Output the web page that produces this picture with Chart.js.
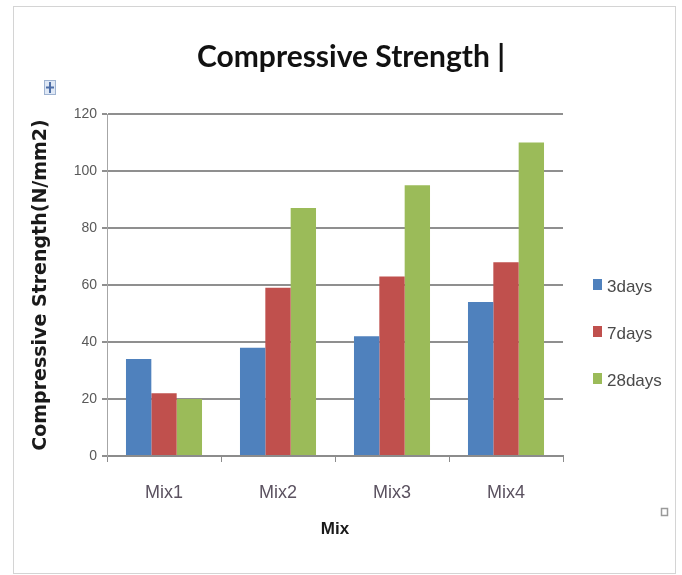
<!DOCTYPE html>
<html>
<head>
<meta charset="utf-8">
<script src="https://cdn.jsdelivr.net/npm/chart.js@4/dist/chart.umd.min.js"></script>
<style>
  html, body { margin: 0; padding: 0; background: #ffffff; }
  #wrap { width: 682px; height: 575px; }
</style>
</head>
<body>
<div id="wrap"><canvas id="c" width="682" height="575"></canvas></div>
<script>
// Categories, series and axis ticks
const mixes = ['Mix1', 'Mix2', 'Mix3', 'Mix4'];
const seriesNames = ['3days', '7days', '28days'];
const days3 = [34, 38, 42, 54];
const days7 = [22, 59, 63, 68];
const days28 = [20, 87, 95, 110];
const yTicks = [0, 20, 40, 60, 80, 100, 120];

const colors = ['#4F81BD', '#C0504D', '#9BBB59'];
const seriesValues = [days3, days7, days28];

// Light frame around the chart object plus its small handles
const framePlugin = {
  id: 'frame',
  beforeDraw(chart) {
    const ctx = chart.ctx;
    ctx.save();
    ctx.fillStyle = '#ffffff';
    ctx.fillRect(0, 0, chart.width, chart.height);
    ctx.strokeStyle = '#d4d4d4';
    ctx.lineWidth = 1;
    ctx.strokeRect(13.5, 6.5, 662, 567);
    // move handle (top left)
    ctx.fillStyle = '#dfe8f5';
    ctx.fillRect(44, 80, 12, 15);
    ctx.strokeStyle = '#9fb3d1';
    ctx.strokeRect(44.5, 80.5, 11, 14);
    ctx.strokeStyle = '#4f6fa8';
    ctx.lineWidth = 2;
    ctx.beginPath();
    ctx.moveTo(50, 82); ctx.lineTo(50, 93);
    ctx.moveTo(46, 87.5); ctx.lineTo(54, 87.5);
    ctx.stroke();
    // resize handle (bottom right)
    ctx.lineWidth = 1.5;
    ctx.strokeStyle = '#9a9a9a';
    ctx.strokeRect(661.5, 508.5, 6, 7);
    ctx.restore();
  }
};

// Legend drawn to the right of the plot, one entry per dataset
const sideLegend = {
  id: 'sideLegend',
  afterDraw(chart) {
    const ctx = chart.ctx;
    const area = chart.chartArea;
    const x = area.right + 30;
    const y0 = area.top + 173;
    const gap = 47;
    ctx.save();
    ctx.font = '17px "Liberation Sans", Arial, sans-serif';
    ctx.textBaseline = 'middle';
    ctx.textAlign = 'left';
    chart.data.datasets.forEach((ds, i) => {
      const cy = y0 + i * gap;
      ctx.fillStyle = ds.backgroundColor;
      ctx.fillRect(x, cy - 8, 9, 11);
      ctx.fillStyle = '#4a4a4a';
      ctx.fillText(ds.label, x + 14, cy);
    });
    ctx.restore();
  }
};

const chart = new Chart(document.getElementById('c'), {
  type: 'bar',
  data: {
    labels: mixes,
    datasets: seriesNames.map((name, i) => ({
      label: name,
      data: seriesValues[i],
      backgroundColor: colors[i],
      borderWidth: 0,
      categoryPercentage: 0.667,
      barPercentage: 1.0,
      yAxisID: 'y'
    }))
  },
  options: {
    responsive: false,
    devicePixelRatio: 1,
    animation: false,
    layout: { padding: { left: 20, right: 0, top: 0, bottom: 0 } },
    plugins: {
      legend: { display: false },
      tooltip: { enabled: false },
      title: {
        display: true,
        text: 'Compressive Strength |',
        color: '#111111',
        font: { family: 'Lato, "Liberation Sans", sans-serif', size: 30, weight: 'bold' },
        padding: { top: 39, bottom: 39 }
      }
    },
    scales: {
      x: {
        grid: {
          display: true,
          drawOnChartArea: false,
          drawTicks: true,
          tickLength: 6,
          color: '#8c8c8c',
          lineWidth: 1,
          offset: true
        },
        border: { display: true, color: '#8c8c8c', width: 2 },
        ticks: {
          color: '#5b5260',
          padding: 20,
          font: { family: '"Liberation Sans", Arial, sans-serif', size: 18 }
        },
        title: {
          display: true,
          text: 'Mix',
          color: '#1a1a1a',
          font: { family: '"Liberation Sans", Arial, sans-serif', size: 17, weight: 'bold' },
          padding: { top: 0, bottom: 35 }
        },
        afterFit(s) { s.height = 119; }
      },
      y: {
        min: yTicks[0],
        max: yTicks[yTicks.length - 1],
        afterBuildTicks(s) { s.ticks = yTicks.map(v => ({ value: v })); },
        grid: {
          color: '#8f8f8f',
          lineWidth: 2,
          drawTicks: true,
          tickLength: 5
        },
        border: { display: true, color: '#a6a6a6', width: 1 },
        ticks: {
          color: '#595959',
          padding: 5,
          font: { family: '"Liberation Sans", Arial, sans-serif', size: 14 }
        },
        title: {
          display: true,
          text: 'Compressive Strength(N/mm2)',
          color: '#1a1a1a',
          font: { family: '"DejaVu Sans", sans-serif', size: 19, weight: 'bold' },
          padding: { top: 10, bottom: 0 }
        },
        afterFit(s) { s.width = 87; }
      },
      // keeps room on the right for the legend
      legendSpace: {
        type: 'linear',
        position: 'right',
        display: true,
        grid: { display: false },
        border: { display: false },
        ticks: { display: false },
        afterFit(s) { s.width = 119; }
      }
    }
  },
  plugins: [framePlugin, sideLegend]
});
</script>
</body>
</html>
